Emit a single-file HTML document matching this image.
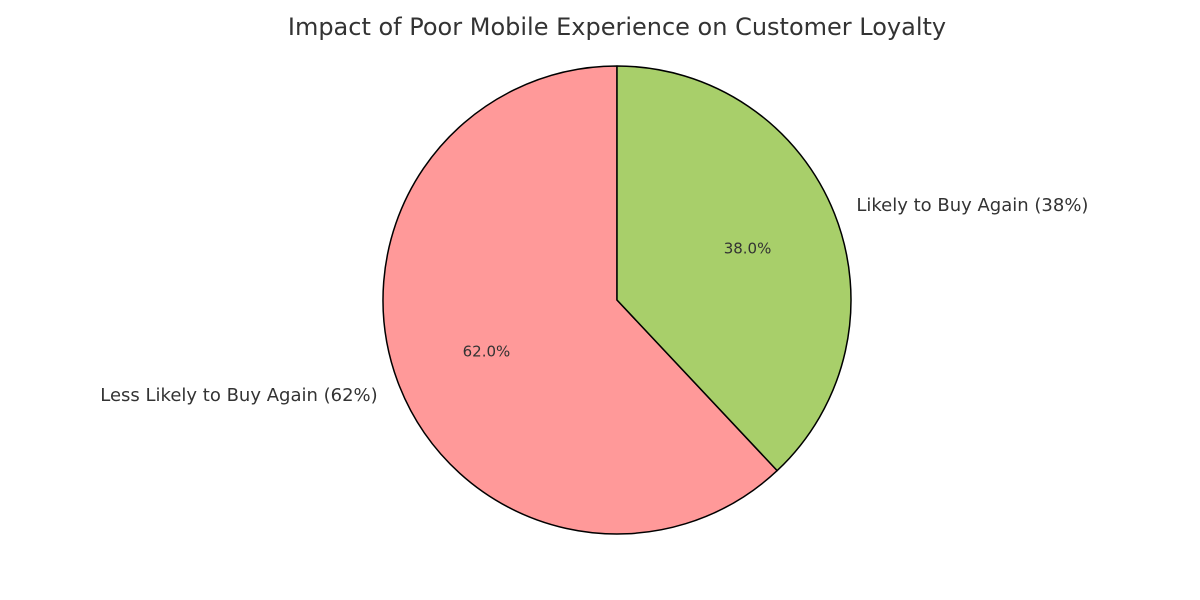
<!DOCTYPE html>
<html><head><meta charset="utf-8">
<style>
html,body{margin:0;padding:0;background:#fff;}
svg{display:block;font-family:"DejaVu Sans","Liberation Sans",sans-serif;}
</style></head>
<body>
<svg id="chart" width="1200" height="600" viewBox="0 0 1200 600">
<text x="617" y="35" text-anchor="middle" font-size="24" fill="#333">Impact of Poor Mobile Experience on Customer Loyalty</text>
<g id="slices"></g>
</svg>
<script>
const categories = ["Less Likely to Buy Again (62%)", "Likely to Buy Again (38%)"];
const values = [62, 38];
const pctLabels = ["62.0%", "38.0%"];
const colors = ["#ff9999", "#a8cf6a"];
const sliceNames = ["slice-less-likely", "slice-likely"];

const cx = 617, cy = 300, r = 234;
const g = document.getElementById('slices');
const ns = "http://www.w3.org/2000/svg";
const total = values.reduce((a,b)=>a+b,0);
let start = 90; // degrees, counterclockwise
function pt(deg, rad){ const a = deg*Math.PI/180; return [cx + rad*Math.cos(a), cy - rad*Math.sin(a)]; }
values.forEach((v,i)=>{
  const sweep = v/total*360;
  const end = start + sweep;
  const [x1,y1] = pt(start, r), [x2,y2] = pt(end, r);
  const large = sweep > 180 ? 1 : 0;
  const p = document.createElementNS(ns,'path');
  p.setAttribute('d', `M${cx},${cy} L${x1},${y1} A${r},${r} 0 ${large} 0 ${x2},${y2} Z`);
  p.setAttribute('fill', colors[i]);
  p.setAttribute('stroke', '#000');
  p.setAttribute('stroke-width', '1.5');
  p.setAttribute('stroke-linejoin', 'round');
  
  
  g.appendChild(p);
  const mid = start + sweep/2;
  const [lx,ly] = pt(mid, r*1.1);
  const t = document.createElementNS(ns,'text');
  t.setAttribute('x', lx); t.setAttribute('y', ly + 6);
  t.setAttribute('font-size', '18'); t.setAttribute('fill', '#333');
  t.setAttribute('text-anchor', Math.cos(mid*Math.PI/180) < 0 ? 'end' : 'start');
  t.textContent = categories[i];
  
  
  g.appendChild(t);
  const [px,py] = pt(mid, r*0.6);
  const pt2 = document.createElementNS(ns,'text');
  pt2.setAttribute('x', px); pt2.setAttribute('y', py + 5);
  pt2.setAttribute('font-size', '15'); pt2.setAttribute('fill', '#333');
  pt2.setAttribute('text-anchor', 'middle');
  pt2.textContent = pctLabels[i];
  
  
  g.appendChild(pt2);
  start = end;
});
</script>
</body></html>
